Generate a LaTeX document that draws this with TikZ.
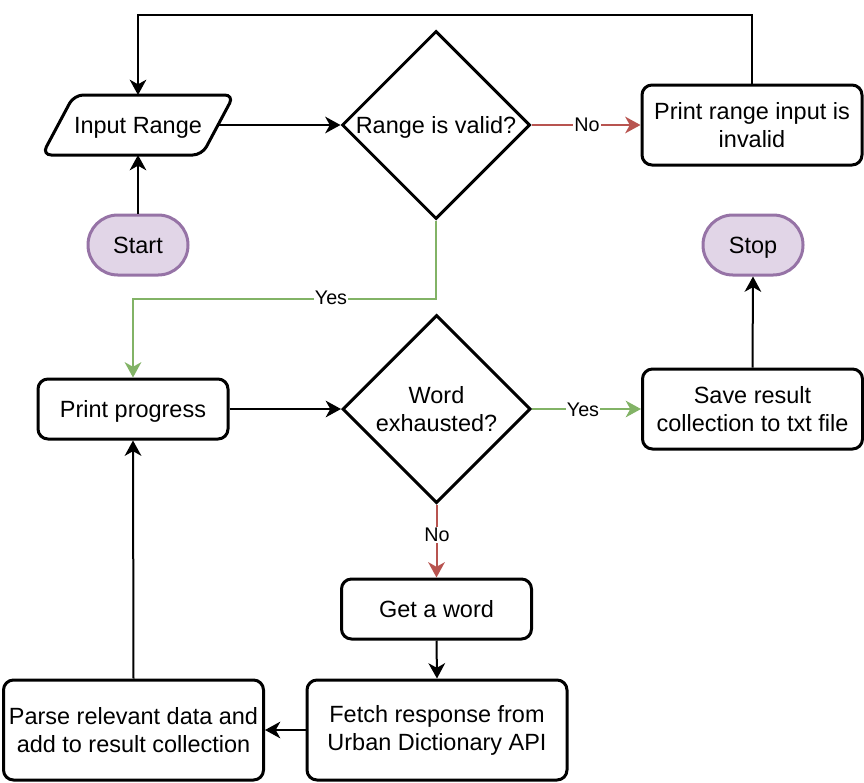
\documentclass[tikz,border=0pt]{standalone}
\usepackage{fontspec}
\setmainfont{Liberation Sans}
\usetikzlibrary{arrows.meta,shapes.geometric}
\definecolor{redc}{HTML}{B85450}
\definecolor{greenc}{HTML}{82B366}
\definecolor{purs}{HTML}{9673A6}
\definecolor{purf}{HTML}{E1D5E7}
\begin{document}
\begin{tikzpicture}[x=0.75pt,y=-0.75pt,
  every node/.style={font=\fontsize{17.6}{21}\selectfont, text=black},
  oneline/.style={text height=15.9pt, text depth=3.7pt},
  proc/.style={draw=black, line width=2.25pt, rounded corners=7.5pt, fill=white, align=center, inner sep=0pt},
  term/.style={draw=purs, fill=purf, line width=2.25pt, rounded corners=22.4pt, minimum width=75pt, minimum height=45pt, inner sep=0pt, oneline},
  dec/.style={draw=black, line width=2.25pt, diamond, aspect=1, minimum width=141pt, minimum height=141pt, inner sep=0pt, fill=white},
  conn/.style={line width=1.5pt, -{Stealth[length=11.5pt,width=12.5pt,inset=3.5pt]}},
  elabel/.style={fill=white, inner sep=1pt, font=\fontsize{14.8}{17}\selectfont}
]
\useasboundingbox (0,0) rectangle (864,782);

% input parallelogram
\draw[line width=2.25pt, rounded corners=7pt, fill=white]
  (154,95) -- (234,95) -- (202,155) -- (42,155) -- (74,95) -- cycle;
\node[oneline, inner sep=0pt] (inp) at (138,125) {Input Range};
\coordinate (inpE) at (218,125);
\coordinate (inpN) at (138,95);
\coordinate (inpS) at (138,155);

\node[dec, label={[oneline]center:Range is valid?}] (d1) at (436,125) {};
\node[proc, minimum width=165pt, minimum height=60pt] (inv) at (752,125) {Print range input is\\invalid};
\node[term] (start) at (138,245) {Start};
\node[term] (stop) at (753,245) {Stop};
\node[proc, oneline, minimum width=142.5pt, minimum height=45pt] (pp) at (133,409) {Print progress};
\node[dec, label={[align=center]center:Word\\exhausted?}] (d2) at (436.5,409) {};
\node[proc, minimum width=165pt, minimum height=60pt] (save) at (752.5,409) {Save result\\collection to txt file};
\node[proc, oneline, minimum width=142.5pt, minimum height=45pt] (get) at (436.5,609) {Get a word};
\node[proc, minimum width=195pt, minimum height=75pt] (fetch) at (437,730) {Fetch response from\\Urban Dictionary API};
\node[proc, minimum width=195pt, minimum height=75pt] (parse) at (133.5,730) {Parse relevant data and\\add to result collection};

\coordinate (loopc) at (138,15);
\coordinate (yesc) at (133,299);

% connectors
\draw[conn] (start.north) -- (inpS);
\draw[conn] (inpE) -- (d1.west);
\draw[conn, redc] (d1.east) -- (inv.west);
\draw[conn] (inv.north) |- (loopc) -- (inpN);
\draw[conn, greenc] (d1.south) |- (yesc) -- (pp.north);
\draw[conn] (pp.east) -- (d2.west);
\draw[conn, greenc] (d2.east) -- (save.west);
\draw[conn] (save.north) -- (stop.south);
\draw[conn, redc] (d2.south) -- (get.north);
\draw[conn] (get.south) -- (fetch.north);
\draw[conn] (fetch.west) -- (parse.east);
\draw[conn] (parse.north) -- (pp.south);

% edge labels
\node[elabel] (lno1) at (587,125) {No};
\node[elabel] (lyes1) at (331,298) {Yes};
\node[elabel] (lyes2) at (583,410) {Yes};
\node[elabel] (lno2) at (437,535) {No};
\end{tikzpicture}
\end{document}
